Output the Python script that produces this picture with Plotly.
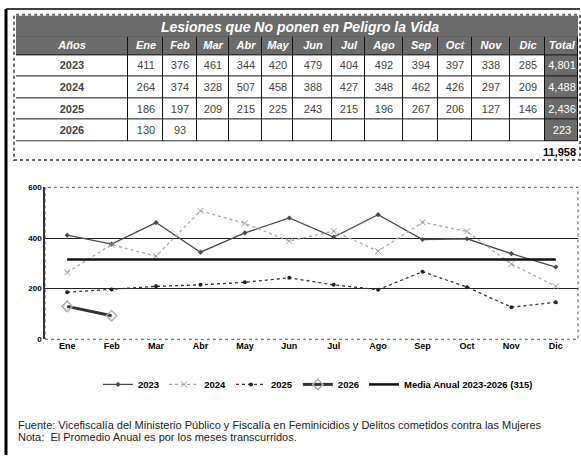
import plotly.graph_objects as go

# ---------------- data ----------------
months = ["Ene", "Feb", "Mar", "Abr", "May", "Jun", "Jul", "Ago", "Sep", "Oct", "Nov", "Dic"]
years = ["2023", "2024", "2025", "2026"]
v2023 = [411, 376, 461, 344, 420, 479, 404, 492, 394, 397, 338, 285]
v2024 = [264, 374, 328, 507, 458, 388, 427, 348, 462, 426, 297, 209]
v2025 = [186, 197, 209, 215, 225, 243, 215, 196, 267, 206, 127, 146]
v2026 = [130, 93]
totals = ["4,801", "4,488", "2,436", "223"]
grand_total = "11,958"
media = 315
title = "Lesiones que No ponen en Peligro la Vida"
legend_names = ["2023", "2024", "2025", "2026", "Media Anual 2023-2026 (315)"]
fuente = "Fuente: Vicefiscalía del Ministerio Público y Fiscalía en Feminicidios y Delitos cometidos contra las Mujeres"
nota = "Nota:  El Promedio Anual es por los meses transcurridos."

W, H = 581, 460
FONT = "Liberation Sans, Arial, sans-serif"
DARK = "#6b6b6b"


def px(x):
    return x / W


def py(y):
    return 1 - y / H


fig = go.Figure()

# ---------------- table (heatmap on its own axes) ----------------
series = [v2023, v2024, v2025, v2026]
colwidths = [112, 35, 34, 32, 33, 31, 39, 33, 38, 35, 34, 38, 35, 33]
rowheights = [19, 22, 22, 22, 22]
x_edges = [0]
for w in colwidths:
    x_edges.append(x_edges[-1] + w)
y_edges = [0]
for h in rowheights:
    y_edges.append(y_edges[-1] + h)

header = ["<b><i>Años</i></b>"] + ["<b><i>%s</i></b>" % m for m in months] + ["<b><i>Total</i></b>"]
text = [header]
z = [[1] * len(header)]
for yr, s, tot in zip(years, series, totals):
    row = ["<b>%s</b>" % yr] + [str(v) for v in s] + [""] * (12 - len(s)) + [tot]
    text.append(row)
    z.append([0] * 13 + [1])

fig.add_trace(go.Heatmap(
    x=x_edges, y=y_edges, z=z, text=text, texttemplate="%{text}",
    textfont=dict(family=FONT, size=11),
    colorscale=[[0, "white"], [1, DARK]], zmin=0, zmax=1, showscale=False,
    xgap=1, ygap=1, hoverinfo="skip", xaxis="x2", yaxis="y2",
))

# ---------------- chart ----------------
fig.add_trace(go.Scatter(x=months, y=v2023, name=legend_names[0], mode="lines+markers",
                         line=dict(color="#4a4a4a", width=1.3),
                         marker=dict(symbol="diamond", size=4, color="#4a4a4a")))
fig.add_trace(go.Scatter(x=months, y=v2024, name=legend_names[1], mode="lines+markers",
                         line=dict(color="#a8a8a8", width=1.3, dash="dot"),
                         marker=dict(symbol="x-thin-open", size=6, color="#999", line=dict(width=1, color="#999"))))
fig.add_trace(go.Scatter(x=months, y=v2025, name=legend_names[2], mode="lines+markers",
                         line=dict(color="#333", width=1.3, dash="dot"),
                         marker=dict(symbol="circle", size=4, color="#222")))
fig.add_trace(go.Scatter(x=months[:len(v2026)], y=v2026, name=legend_names[3], mode="lines+markers",
                         line=dict(color="#333", width=3),
                         marker=dict(symbol="diamond-open", size=8, color="#b0b0b0", line=dict(width=1.5))))
fig.add_trace(go.Scatter(x=months, y=[media] * len(months), name=legend_names[4], mode="lines",
                         line=dict(color="#111", width=2.5)))

fig.update_layout(
    width=W, height=H,
    margin=dict(l=0, r=0, t=0, b=0),
    paper_bgcolor="white", plot_bgcolor="white",
    font=dict(family=FONT, color="black"),
    xaxis=dict(domain=[px(45), px(578)], type="category", categoryorder="array", categoryarray=months,
               range=[-0.5, 11.5], showgrid=False, showline=False, zeroline=False,
               ticks="", tickfont=dict(family=FONT, size=9, color="black", weight="bold")),
    yaxis=dict(domain=[py(342), py(187)], range=[0, 600], tickvals=[0, 200, 400, 600],
               showgrid=False, zeroline=False, showline=True, linecolor="#333", linewidth=1.5,
               ticks="", tickfont=dict(family=FONT, size=8, color="black", weight="bold"),
               minor=dict(tickmode="array", tickvals=[200, 400], showgrid=True,
                          gridcolor="#222", gridwidth=1.4)),
    xaxis2=dict(domain=[px(16), px(578)], range=[x_edges[0], x_edges[-1]], visible=False,
                anchor="y2", fixedrange=True),
    yaxis2=dict(domain=[py(33 + y_edges[-1]), py(33)], range=[y_edges[-1], y_edges[0]], visible=False,
                anchor="x2", fixedrange=True),
    showlegend=True,
    legend=dict(orientation="h", x=px(318), xanchor="center", y=py(388), yanchor="middle",
                font=dict(family=FONT, size=9.5, color="black", weight="bold"),
                itemwidth=30, tracegroupgap=0, bgcolor="rgba(0,0,0,0)"),
)

shapes = [
    # cell border background for the table
    dict(type="rect", xref="x2 domain", yref="y2 domain", x0=0, x1=1, y0=0, y1=1,
         fillcolor="#111", line=dict(width=0), layer="below"),
    # plot border (dotted)
    dict(type="rect", xref="x domain", yref="y domain", x0=0, x1=1, y0=0, y1=1,
         line=dict(color="#555", width=1, dash="dot"), layer="below"),
    # title band
    dict(type="rect", xref="paper", yref="paper", x0=px(16), x1=px(578), y0=py(33), y1=py(12),
         fillcolor=DARK, line=dict(width=0)),
    # table frame
    dict(type="rect", xref="paper", yref="paper", x0=px(14), x1=px(580), y0=py(159), y1=py(11),
         line=dict(color="#666", width=2, dash="dot")),
    # outer frame
    dict(type="line", xref="paper", yref="paper", x0=px(6), x1=px(6), y0=py(5), y1=0,
         line=dict(color="black", width=3)),
    dict(type="line", xref="paper", yref="paper", x0=px(6), x1=px(580), y0=py(5), y1=py(5),
         line=dict(color="black", width=1.5)),
]
fig.update_layout(shapes=shapes)

fig.add_annotation(text="<b><i>%s</i></b>" % title, xref="paper", yref="paper",
                   x=px(300), y=py(23), xanchor="center", yanchor="middle", showarrow=False,
                   font=dict(family=FONT, size=14, color="white"))
fig.add_annotation(text="<b>%s</b>" % grand_total, xref="paper", yref="paper",
                   x=px(578), y=py(151), xanchor="right", yanchor="middle", showarrow=False,
                   font=dict(family=FONT, size=11, color="black"))
fig.add_annotation(text=fuente, xref="paper", yref="paper",
                   x=px(16), y=py(429), xanchor="left", yanchor="middle", showarrow=False,
                   font=dict(family=FONT, size=11, color="#222"))
fig.add_annotation(text=nota, xref="paper", yref="paper",
                   x=px(16), y=py(442), xanchor="left", yanchor="middle", showarrow=False,
                   font=dict(family=FONT, size=11, color="#222"))

fig.write_html("out.html", config={"displayModeBar": False},
               post_script="document.body.style.margin='0';document.body.style.overflow='hidden';")
